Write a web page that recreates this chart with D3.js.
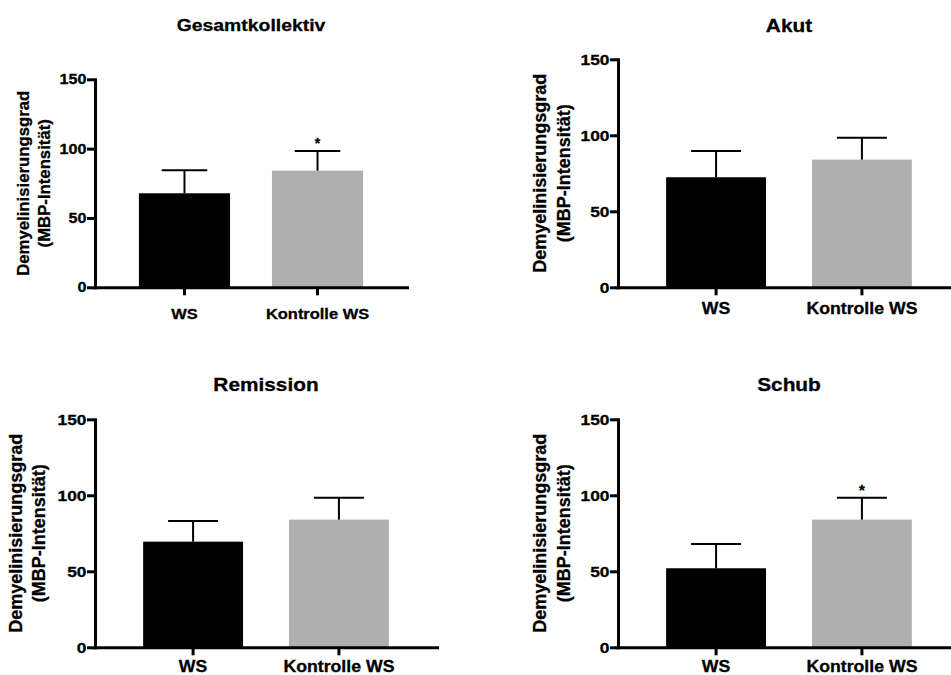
<!DOCTYPE html>
<html><head><meta charset="utf-8">
<script src="https://cdn.jsdelivr.net/npm/d3@7"></script>
<style>
body{margin:0;background:#fff}
svg{display:block}
text{font-family:"Liberation Sans",Arial,Helvetica,sans-serif;font-weight:bold;fill:#000;stroke:#000;stroke-width:0.3px}
</style>
</head><body>
<svg id="c" width="951" height="675"></svg>
<script>
const panelTitles = ["Gesamtkollektiv", "Akut", "Remission", "Schub"];
const categories = ["WS", "Kontrolle WS"];
const meanWS = [67.8, 72.4, 69.5, 52.0];
const sdWS = [16.6, 17.3, 13.6, 16.0];
const meanKontrolle = [84.1, 84.0, 84.0, 84.0];
const sdKontrolle = [14.2, 14.4, 14.4, 14.4];
const significant = [[false, true], [false, false], [false, false], [false, true]];
const yTicks = [0, 50, 100, 150];
const yMax = 150;
const yLabelLines = ["Demyelinisierungsgrad", "(MBP-Intensität)"];
const barColors = ["#000000", "#afafb0"];

const layout = [
  {x: 95,  y0: 287.3, w: 312, h: 208, fs: 0.93, titleY: 31,  catOff: 32,   yl: [-66, -45]},
  {x: 618, y0: 287.3, w: 342, h: 228, fs: 1,    titleY: 32,  catOff: 26.7, yl: [-72.5, -48.5]},
  {x: 95,  y0: 647.3, w: 342, h: 228, fs: 1,    titleY: 391, catOff: 25,   yl: [-73.5, -50]},
  {x: 618, y0: 647.3, w: 342, h: 228, fs: 1,    titleY: 391, catOff: 25,   yl: [-72.5, -48.5]}
];
const SX = 1.12;
const svg = d3.select("#c");

panelTitles.forEach((title, i) => {
  const L = layout[i];
  const g = svg.append("g").attr("transform", `translate(${L.x},${L.y0 - L.h})`);
  const x = d3.scaleBand().domain(categories).range([0, L.w]).paddingInner(0.315).paddingOuter(0.33);
  const y = d3.scaleLinear().domain([0, yMax]).range([L.h, 0]);
  const data = categories.map((c, j) => ({
    cat: c,
    mean: j === 0 ? meanWS[i] : meanKontrolle[i],
    sd: j === 0 ? sdWS[i] : sdKontrolle[i],
    sig: significant[i][j],
    color: barColors[j]
  }));

  // bars
  g.selectAll("rect.bar").data(data).join("rect")
    .attr("x", d => x(d.cat)).attr("width", x.bandwidth())
    .attr("y", d => y(d.mean)).attr("height", d => y(0) - y(d.mean))
    .attr("fill", d => d.color);

  // error bars (upper only)
  const cx = d => x(d.cat) + x.bandwidth() / 2;
  g.selectAll("line.err").data(data).join("line")
    .attr("x1", cx).attr("x2", cx)
    .attr("y1", d => y(d.mean)).attr("y2", d => y(d.mean + d.sd))
    .attr("stroke", "#000").attr("stroke-width", 2);
  g.selectAll("line.cap").data(data).join("line")
    .attr("x1", d => cx(d) - x.bandwidth() / 4).attr("x2", d => cx(d) + x.bandwidth() / 4)
    .attr("y1", d => y(d.mean + d.sd)).attr("y2", d => y(d.mean + d.sd))
    .attr("stroke", "#000").attr("stroke-width", 2);

  // significance stars
  g.selectAll("text.star").data(data.filter(d => d.sig)).join("text")
    .attr("x", cx).attr("y", d => y(d.mean + d.sd) - 3)
    .attr("text-anchor", "middle").attr("font-size", 15 * L.fs).text("*");

  // axes
  const yAxis = g.append("g")
    .call(d3.axisLeft(y).tickValues(yTicks).tickSize(8).tickSizeOuter(0).tickFormat(""));
  const xAxis = g.append("g").attr("transform", `translate(0,${L.h})`)
    .call(d3.axisBottom(x).tickSize(8).tickSizeOuter(0).tickFormat(""));
  [yAxis, xAxis].forEach(a => {
    a.selectAll("path.domain").attr("stroke", "#000").attr("stroke-width", 3).attr("stroke-linecap", "square");
    a.selectAll(".tick line").attr("stroke", "#000").attr("stroke-width", 3);
  });

  // y tick labels
  yTicks.forEach(t => {
    g.append("g").attr("transform", `translate(-8.5,${y(t)}) scale(${SX},1)`)
      .append("text").attr("text-anchor", "end").attr("dy", "0.36em")
      .attr("font-size", 15.5 * L.fs).text(t);
  });

  // category labels
  categories.forEach(c => {
    g.append("g").attr("transform", `translate(${x(c) + x.bandwidth() / 2},${L.h + L.catOff}) scale(${SX},1)`)
      .append("text").attr("text-anchor", "middle")
      .attr("font-size", 15.8 * L.fs).text(c);
  });

  // title
  svg.append("g").attr("transform", `translate(${L.x + L.w / 2},${L.titleY}) scale(${SX},1)`)
    .append("text").attr("text-anchor", "middle").attr("font-size", 18.6 * L.fs).text(title);

  // y axis label (two lines)
  yLabelLines.forEach((line, k) => {
    g.append("text")
      .attr("transform", `translate(${L.yl[k]},${L.h / 2}) rotate(-90)`)
      .attr("text-anchor", "middle").attr("font-size", 18 * L.fs).text(line);
  });
});
</script>
</body></html>
